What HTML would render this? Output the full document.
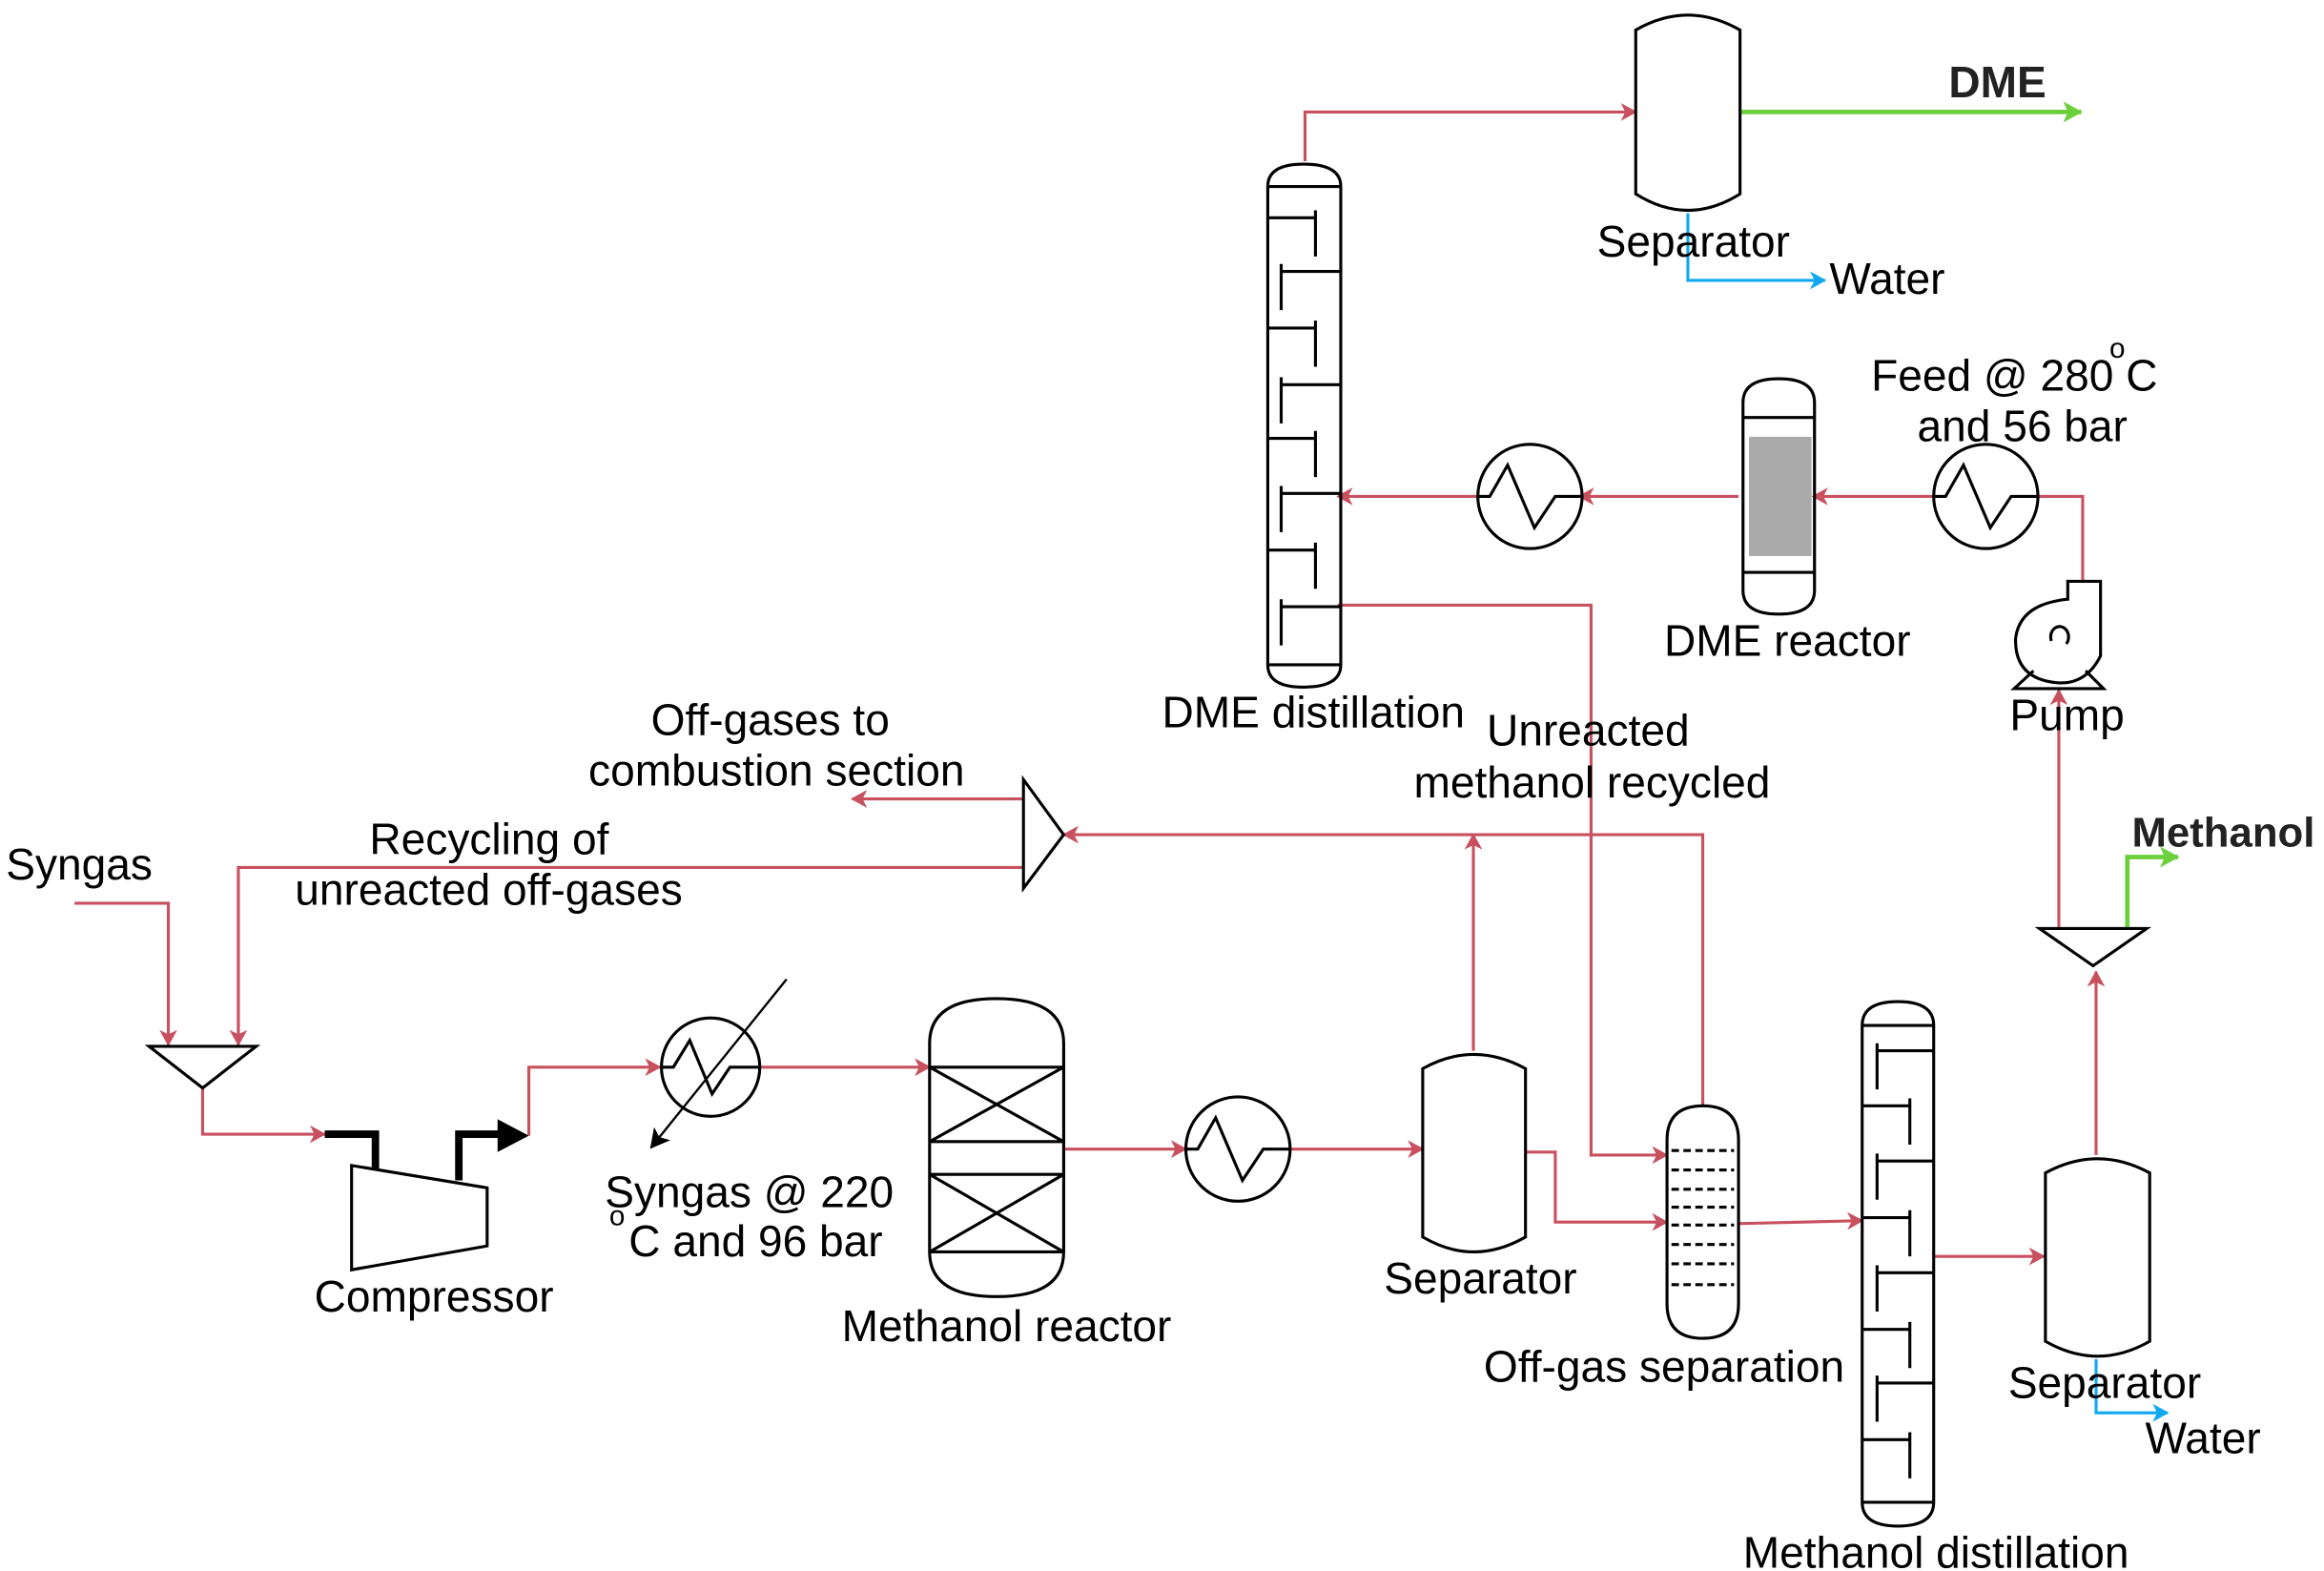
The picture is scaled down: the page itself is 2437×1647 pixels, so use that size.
<!DOCTYPE html>
<html><head><meta charset="utf-8"><style>
html,body{margin:0;padding:0;background:#fff;}
svg{display:block;}
text{font-family:"Liberation Sans",Arial,sans-serif;font-size:29.5px;fill:#000;}
</style></head><body>
<svg width="2437" height="1647" viewBox="0 0 1560 1054" xmlns="http://www.w3.org/2000/svg">
<defs>
<marker id="r" markerWidth="12" markerHeight="12" refX="10" refY="6" orient="auto" markerUnits="userSpaceOnUse"><path d="M0,0 L11,6 L0,12 L3,6 Z" fill="#c8505f"/></marker>
<marker id="g" markerWidth="14" markerHeight="14" refX="12" refY="7" orient="auto" markerUnits="userSpaceOnUse"><path d="M0,0 L13,7 L0,14 L3,7 Z" fill="#6ccf3c"/></marker>
<marker id="b" markerWidth="12" markerHeight="12" refX="10" refY="6" orient="auto" markerUnits="userSpaceOnUse"><path d="M0,0 L11,6 L0,12 L3,6 Z" fill="#10a8f0"/></marker>
<marker id="k" markerWidth="14" markerHeight="14" refX="12" refY="7" orient="auto" markerUnits="userSpaceOnUse"><path d="M0,0 L13,7 L0,14 L3,7 Z" fill="#000"/></marker>
</defs>
<g fill="none" stroke="#c8505f" stroke-width="2">
<path d="M876,108 V75 H1098" marker-end="url(#r)"/>
<path d="M1167,333 H1060" marker-end="url(#r)"/>
<path d="M1298,333 H1217" marker-end="url(#r)"/>
<path d="M992,333 H898" marker-end="url(#r)"/>
<path d="M1368,333 H1398 V390"/>
<path d="M898,406 H1068 V775 H1119" marker-end="url(#r)"/>
<path d="M1143,742 V560 H714" marker-end="url(#r)"/>
<path d="M989,705 V560" marker-end="url(#r)"/>
<path d="M687,536 H572" marker-end="url(#r)"/>
<path d="M687,582 H160 V701" marker-end="url(#r)"/>
<path d="M50,606 H113 V701" marker-end="url(#r)"/>
<path d="M136,730 V761 H218" marker-end="url(#r)"/>
<path d="M355,762 V716 H443" marker-end="url(#r)"/>
<path d="M510,716 H624" marker-end="url(#r)"/>
<path d="M714,771 H796" marker-end="url(#r)"/>
<path d="M866,771 H955" marker-end="url(#r)"/>
<path d="M1024,773 H1044 V820 H1119" marker-end="url(#r)"/>
<path d="M1167,821 L1250,819" marker-end="url(#r)"/>
<path d="M1298,843 H1372" marker-end="url(#r)"/>
<path d="M1407,775 V652" marker-end="url(#r)"/>
<path d="M1382,622 V463" marker-end="url(#r)"/>
</g>
<path d="M1168,75 H1397" stroke="#6ccf3c" stroke-width="3" fill="none" marker-end="url(#g)"/>
<path d="M1428,622 V575 H1462" stroke="#6ccf3c" stroke-width="3" fill="none" marker-end="url(#g)"/>
<path d="M1133,143 V188 H1225" stroke="#10a8f0" stroke-width="2" fill="none" marker-end="url(#b)"/>
<path d="M1407,912 V948 H1455" stroke="#10a8f0" stroke-width="2" fill="none" marker-end="url(#b)"/>
<g fill="none" stroke="#000" stroke-width="2">
<path d="M1098,20 Q1133,0 1168,20 V130 Q1133,152 1098,130 Z"/>
<path d="M851,125 Q851,110 875,110 Q900,110 900,125 V446 Q900,461 875,461 Q851,461 851,446 Z"/>
<path d="M851,125 H900 M851,446 H900"/>
<path d="M851,146 H883 M883,141 V172 M860,182 H900 M860,177 V208 M851,220 H883 M883,215 V246 M860,258 H900 M860,253 V284 M851,294 H883 M883,289 V320 M860,331 H900 M860,326 V357 M851,369 H883 M883,364 V395 M860,407 H900 M860,402 V433"/>
<path d="M1170,270 Q1170,254 1194,254 Q1218,254 1218,270 V396 Q1218,412 1194,412 Q1170,412 1170,396 Z"/>
<path d="M1170,280 H1218 M1170,384 H1218"/>
<circle cx="1027" cy="333" r="35"/>
<path d="M992,333 H1000 L1012,312 L1030,354 L1044,333 H1062"/>
<circle cx="1333" cy="333" r="35"/>
<path d="M1298,333 H1306 L1318,312 L1336,354 L1350,333 H1368"/>
<circle cx="831" cy="771" r="35"/>
<path d="M796,771 H804 L816,750 L834,792 L848,771 H866"/>
<circle cx="477" cy="716" r="33"/>
<path d="M444,716 H452 L463,698 L478,734 L490,716 H510"/>
<path d="M1388,390 H1410 V440 Q1400,460 1380,458 Q1352,455 1353,428 Q1356,405 1388,402 Z"/>
<path d="M1387,432 A6,7 0 1 0 1377,430"/>
<path d="M1365,450 L1352,462 H1412 L1400,450"/>
<path d="M687,523 V596 L714,560 Z"/>
<path d="M100,702 H172 L136,730 Z"/>
<path d="M1369,623 H1441 L1405,648 Z"/>
<path d="M236,782 L327,797 V836 L236,852 Z"/>
<path d="M624,716 V700 Q624,670 669,670 Q714,670 714,700 V840 Q714,870 669,870 Q624,870 624,840 Z"/>
<path d="M624,716 H714 M624,766 H714 M624,788 H714 M624,840 H714 M624,716 L714,766 M714,716 L624,766 M624,788 L714,840 M714,788 L624,840"/>
<path d="M955,717 Q989,698 1024,717 V830 Q989,850 955,830 Z"/>
<path d="M1119,765 Q1119,742 1143,742 Q1167,742 1167,765 V875 Q1167,898 1143,898 Q1119,898 1119,875 Z"/>
<path d="M1122,772 H1164 M1122,785 H1164 M1122,798 H1164 M1122,810 H1164 M1122,822 H1164 M1122,835 H1164 M1122,848 H1164 M1122,862 H1164" stroke-dasharray="5,3"/>
<path d="M1250,688 Q1250,672 1274,672 Q1298,672 1298,688 V1008 Q1298,1024 1274,1024 Q1250,1024 1250,1008 Z"/>
<path d="M1250,688 H1298 M1250,1008 H1298"/>
<path d="M1260,705 H1298 M1260,700 V731 M1250,742 H1282 M1282,737 V768 M1260,779 H1298 M1260,774 V805 M1250,817 H1282 M1282,812 V843 M1260,854 H1298 M1260,849 V880 M1250,892 H1282 M1282,887 V918 M1260,928 H1298 M1260,923 V954 M1250,966 H1282 M1282,961 V992"/>
<path d="M1373,787 Q1408,768 1443,787 V900 Q1408,920 1373,900 Z"/>
</g>
<path d="M218,761 H252 V785" stroke="#000" stroke-width="5" fill="none"/>
<path d="M308,792 V761 H335" stroke="#000" stroke-width="5" fill="none"/>
<path d="M334,751 L355,762 L334,773 Z" fill="#000"/>
<path d="M528,657 L437,770" stroke="#000" stroke-width="1.5" fill="none" marker-end="url(#k)"/>
<rect x="1174" y="293" width="42" height="80" fill="#aaaaaa"/>
<text x="1308" y="65" style="font-weight:bold;fill:#222">DME</text>
<text x="1072" y="172">Separator</text>
<text x="1228" y="197">Water</text>
<text x="1256" y="262">Feed @ 280</text>
<text x="1416" y="240" style="font-size:19px">o</text>
<text x="1427" y="262">C</text>
<text x="1287" y="296">and 56 bar</text>
<text x="1117" y="440">DME reactor</text>
<text x="1349" y="490">Pump</text>
<text x="780" y="488">DME distillation</text>
<text x="998" y="500">Unreacted</text>
<text x="949" y="535">methanol recycled</text>
<text x="437" y="493">Off-gases to</text>
<text x="395" y="527">combustion section</text>
<text x="4" y="590">Syngas</text>
<text x="248" y="573">Recycling of</text>
<text x="198" y="607">unreacted off-gases</text>
<text x="1431" y="568" style="font-weight:bold;fill:#222;font-size:28px">Methanol</text>
<text x="406" y="810">Syngas @ 220</text>
<text x="409" y="822" style="font-size:19px">o</text>
<text x="422" y="843">C and 96 bar</text>
<text x="211" y="880">Compressor</text>
<text x="565" y="900">Methanol reactor</text>
<text x="929" y="868">Separator</text>
<text x="996" y="927">Off-gas separation</text>
<text x="1348" y="938">Separator</text>
<text x="1440" y="975">Water</text>
<text x="1170" y="1052">Methanol distillation</text>
</svg>
</body></html>
